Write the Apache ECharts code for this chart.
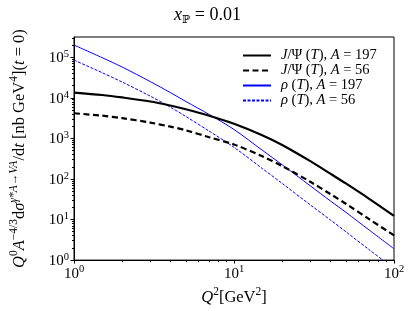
<!DOCTYPE html>
<html><head><meta charset="utf-8">
<script src="https://cdn.jsdelivr.net/npm/echarts@6/dist/echarts.min.js"></script>
<style>html,body{margin:0;padding:0;background:#fff}#c{width:415px;height:311px}</style>
</head><body><div id="c"></div>
<script>
const q2 = [1, 1.5, 2, 3, 4, 5, 7, 10, 15, 20, 30, 40, 50, 70, 100];
const jpsi197 = [13490, 11750, 10230, 8130, 6460, 5250, 3630, 2290, 1200, 690, 275, 135, 77.6, 32.4, 12.3];
const jpsi56  = [4170, 3630, 3160, 2450, 1950, 1585, 1070, 708, 363, 209, 85.1, 42.7, 24.5, 10.2, 4.07];
const rho197  = [200000, 97700, 57500, 25100, 13500, 8130, 3890, 1660, 513, 224, 67.6, 28.8, 15.1, 5.5, 1.9];
const rho56   = [85100, 41700, 24500, 11000, 5890, 3470, 1510, 603, 182, 77.6, 22.9, 9.8, 5.0, 1.8, 0.62];
const seriesNames = ['J/Ψ (T), A = 197', 'J/Ψ (T), A = 56', 'ρ (T), A = 197', 'ρ (T), A = 56'];
const xMinor = [2,3,4,5,6,7,8,9,20,30,40,50,60,70,80,90];
const yMinor = [];
for (let k = 0; k <= 5; k++) for (let m = 2; m <= 9; m++) { const v = m * Math.pow(10, k); if (v <= 316228) yMinor.push(v); }

const FONT = '"Liberation Serif", "DejaVu Serif", serif';
const pow = v => '{b|10}{s|' + Math.round(Math.log10(v)) + '}';
const labRich = { b: { fontFamily: FONT, fontSize: 15, color: '#000', lineHeight: 17, verticalAlign: 'bottom' },
                  s: { fontFamily: FONT, fontSize: 10.5, color: '#000', lineHeight: 17, verticalAlign: 'top' } };
const nameRich = {
  r: { fontFamily: FONT, fontSize: 16.5, color: '#000', lineHeight: 20, verticalAlign: 'bottom' },
  i: { fontFamily: FONT, fontSize: 16.5, fontStyle: 'italic', color: '#000', lineHeight: 20, verticalAlign: 'bottom' },
  s: { fontFamily: FONT, fontSize: 11.5, color: '#000', lineHeight: 20, verticalAlign: 'top' },
  si: { fontFamily: FONT, fontSize: 11.5, fontStyle: 'italic', color: '#000', lineHeight: 20, verticalAlign: 'top' }
};
const legRich = {
  p: { width: 5 },
  r: { fontFamily: FONT, fontSize: 14.5, color: '#000', lineHeight: 13.3 },
  i: { fontFamily: FONT, fontSize: 14.5, fontStyle: 'italic', color: '#000', lineHeight: 13.3 }
};
function legFmt(n) {
  const parts = n.split(', ');
  const head = parts[0].replace('J/Ψ', '{i|J}{r|/Ψ}').replace('ρ', '{i|ρ}').replace(' (T)', '{r| (}{i|T}{r|)}');
  const tail = parts[1].replace('A = ', '{r|, }{i|A}{r| = ') + '}';
  return '{p|}' + head + tail;
}

const pair = arr => q2.map((x, i) => [x, arr[i]]);
const chart = echarts.init(document.getElementById('c'), null, { renderer: 'canvas' });
const mkLine = (name, data, color, width, type, z) => ({
  name, type: 'line', data: pair(data), showSymbol: false, symbol: 'none', smooth: 0.3, z,
  lineStyle: { color, width, type }, itemStyle: { color }, clip: true, xAxisIndex: 0, yAxisIndex: 0
});
chart.setOption({
  animation: false,
  title: { text: '{i|x}{sub|ℙ}{r| = 0.01}', left: 'center', top: 1,
    textStyle: { fontWeight: 'normal', rich: {
      i: { fontFamily: FONT, fontSize: 18, fontStyle: 'italic', fontWeight: 'normal', color: '#000', lineHeight: 20, verticalAlign: 'top' },
      sub: { fontFamily: '"DejaVu Serif", serif', fontSize: 11, fontWeight: 'normal', color: '#000', lineHeight: 20, verticalAlign: 'bottom' },
      r: { fontFamily: FONT, fontSize: 18, fontWeight: 'normal', color: '#000', lineHeight: 20, verticalAlign: 'top' } } } },
  grid: { left: 67, right: 21, top: 37, bottom: 48, show: true, borderColor: '#000', borderWidth: 1, containLabel: false },
  legend: { orient: 'vertical', left: 242, top: 48, padding: 0, itemWidth: 28, itemHeight: 10, itemGap: 0,
    data: seriesNames, textStyle: { rich: legRich }, formatter: legFmt, itemStyle: { opacity: 0 } },
  xAxis: [
    { type: 'log', min: 1, max: 100, logBase: 10, position: 'bottom',
      name: '{i|Q}{s|2}{r|[GeV}{s|2}{r|]}', nameLocation: 'middle', nameGap: 25,
      nameTextStyle: { rich: nameRich },
      axisLine: { show: true, lineStyle: { color: '#000', width: 1 } },
      axisTick: { show: true, length: 3.5, lineStyle: { color: '#000' } },
      axisLabel: { formatter: pow, rich: labRich, margin: 4 },
      splitLine: { show: false } },
    { type: 'log', min: 1, max: 100, logBase: 10, position: 'bottom', gridIndex: 0,
      axisLine: { show: false }, axisLabel: { show: false }, splitLine: { show: false },
      axisTick: { show: true, length: 2, lineStyle: { color: '#000' }, customValues: xMinor } }
  ],
  yAxis: [
    { type: 'log', min: 1, max: 316228, logBase: 10, interval: 1, position: 'left',
      name: '{i|Q}{s|0}{i|A}{s|−4/3}{r|d}{i|σ}{si|γ*A→VA}{r|/d}{i|t}{r| [nb GeV}{s|4}{r|](}{i|t}{r| = 0)}',
      nameLocation: 'middle', nameGap: 46, nameRotate: 90,
      nameTextStyle: { rich: nameRich },
      axisLine: { show: true, lineStyle: { color: '#000', width: 1 } },
      axisTick: { show: true, length: 3.5, lineStyle: { color: '#000' } },
      axisLabel: { formatter: pow, rich: labRich, margin: 5, showMaxLabel: false },
      splitLine: { show: false } },
    { type: 'log', min: 1, max: 316228, logBase: 10, position: 'left', gridIndex: 0,
      axisLine: { show: false }, axisLabel: { show: false }, splitLine: { show: false },
      axisTick: { show: true, length: 2, lineStyle: { color: '#000' }, customValues: yMinor } }
  ],
  series: [
    mkLine(seriesNames[0], jpsi197, '#000000', 2.2, 'solid', 3),
    mkLine(seriesNames[1], jpsi56, '#000000', 2.2, [6, 3.5], 3),
    mkLine(seriesNames[2], rho197, '#0000ff', 1, 'solid', 2),
    mkLine(seriesNames[3], rho56, '#0000ff', 1, [3, 1.5], 2)
  ]
});
</script></body></html>
